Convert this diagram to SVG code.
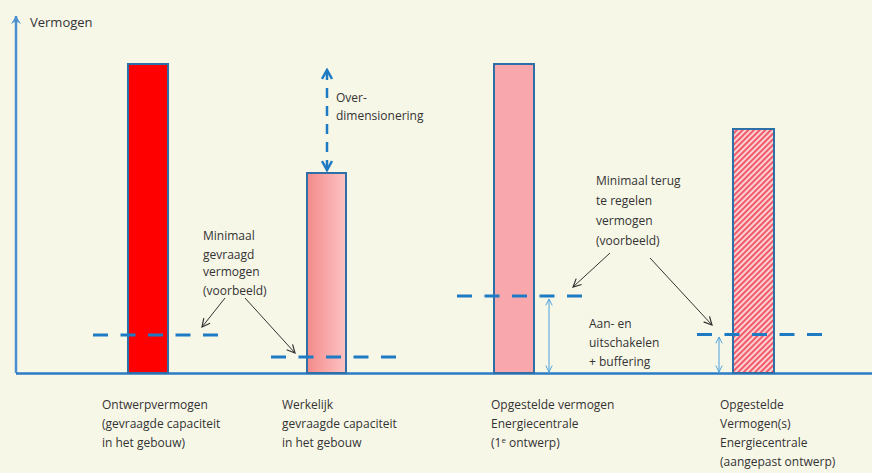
<svg xmlns="http://www.w3.org/2000/svg" width="872" height="473" viewBox="0 0 872 473">
<style>
  .t { font-family: "Open Sans", "Liberation Sans", sans-serif; font-size: 12px; fill: #333333; }
  .bar { stroke: #2e6fa8; stroke-width: 2; }
  .dash { stroke: #1f7ac4; stroke-width: 3; stroke-dasharray: 15 12.5; fill: none; }
  .ptr { stroke: #333; stroke-width: 1; fill: none; marker-end: url(#ah); }
  .thin { stroke: #4aa0dc; stroke-width: 1; fill: none; marker-start: url(#sa); marker-end: url(#sa); }
</style>
<defs>
  <marker id="ah" viewBox="0 0 10 10" refX="9" refY="5" markerWidth="10" markerHeight="10" orient="auto" markerUnits="userSpaceOnUse">
    <path d="M1,1 L9,5 L1,9" fill="none" stroke="#333" stroke-width="1.2"/>
  </marker>
  <marker id="sa" viewBox="0 0 10 10" refX="9" refY="5" markerWidth="8" markerHeight="8" orient="auto-start-reverse" markerUnits="userSpaceOnUse">
    <path d="M1,1 L9,5 L1,9" fill="none" stroke="#4aa0dc" stroke-width="1.2"/>
  </marker>
  <marker id="ba" viewBox="0 0 12 12" refX="10" refY="6" markerWidth="12" markerHeight="12" orient="auto-start-reverse" markerUnits="userSpaceOnUse">
    <path d="M1,1 L10,6 L1,11" fill="none" stroke="#1f7ac4" stroke-width="2.5"/>
  </marker>
  <marker id="axa" viewBox="0 0 12 12" refX="10" refY="6" markerWidth="12" markerHeight="12" orient="auto" markerUnits="userSpaceOnUse">
    <path d="M2,1 L10,6 L2,11 L5,6 Z" fill="#4a90d0"/>
  </marker>
  <linearGradient id="g2" x1="0" y1="0" x2="1" y2="0">
    <stop offset="0" stop-color="#f48a8a"/>
    <stop offset="1" stop-color="#fcc4c4"/>
  </linearGradient>
  <pattern id="hatch" width="4" height="4" patternUnits="userSpaceOnUse" patternTransform="rotate(45)">
    <rect width="4" height="4" fill="#fbdede"/>
    <rect width="2.2" height="4" fill="#f25a6a"/>
  </pattern>
</defs>
<rect width="872" height="473" fill="#f7f7e8"/>

<g id="axes">
  <line x1="16" y1="373" x2="16" y2="16" stroke="#4a90d0" stroke-width="2.5" marker-end="url(#axa)"/>
  <line x1="16" y1="373.5" x2="872" y2="373.5" stroke="#2a7cc6" stroke-width="2.5"/>
  <text class="t" x="30" y="27" style="font-size:13px">Vermogen</text>
</g>

<g id="bar1"><rect class="bar" x="128" y="64" width="40" height="309" fill="#ff0000"/></g>
<g id="bar2"><rect class="bar" x="307" y="173" width="39" height="200" fill="url(#g2)"/></g>
<g id="bar3"><rect class="bar" x="494" y="64" width="40" height="309" fill="#f8a8ac"/></g>
<g id="bar4"><rect class="bar" x="733" y="129" width="41" height="244" fill="url(#hatch)"/></g>

<g id="connectors">
  <line class="dash" x1="93" y1="335" x2="220" y2="335"/>
  <line class="dash" x1="271" y1="357" x2="396" y2="357"/>
  <line class="dash" x1="457" y1="296" x2="582" y2="296"/>
  <line class="dash" x1="697" y1="334.5" x2="822" y2="334.5"/>
  <line x1="327" y1="70" x2="327" y2="170" stroke="#1f7ac4" stroke-width="2.5" stroke-dasharray="10 8" marker-start="url(#ba)" marker-end="url(#ba)"/>
  <line class="ptr" x1="225" y1="298" x2="202" y2="327"/>
  <line class="ptr" x1="245" y1="298" x2="295" y2="353"/>
  <line class="ptr" x1="610" y1="253" x2="573" y2="287"/>
  <line class="ptr" x1="650" y1="258" x2="712" y2="325"/>
  <line class="thin" x1="549" y1="299" x2="549" y2="372"/>
  <line class="thin" x1="719" y1="337" x2="719" y2="372"/>
</g>

<g id="lbl-over">
  <text class="t" x="336" y="102">Over-</text>
  <text class="t" x="336" y="120">dimensionering</text>
</g>
<g id="lbl-minimaal1">
  <text class="t" x="203" y="240">Minimaal</text>
  <text class="t" x="203" y="259">gevraagd</text>
  <text class="t" x="203" y="276">vermogen</text>
  <text class="t" x="203" y="295">(voorbeeld)</text>
</g>
<g id="lbl-minimaal2">
  <text class="t" x="596" y="185">Minimaal terug</text>
  <text class="t" x="596" y="205">te regelen</text>
  <text class="t" x="596" y="225">vermogen</text>
  <text class="t" x="596" y="245">(voorbeeld)</text>
</g>
<g id="lbl-aan">
  <text class="t" x="589" y="328">Aan- en</text>
  <text class="t" x="589" y="347">uitschakelen</text>
  <text class="t" x="589" y="366">+ buffering</text>
</g>
<g id="lbl-bar1">
  <text class="t" x="102" y="409">Ontwerpvermogen</text>
  <text class="t" x="102" y="428">(gevraagde capaciteit</text>
  <text class="t" x="102" y="447">in het gebouw)</text>
</g>
<g id="lbl-bar2">
  <text class="t" x="282" y="409">Werkelijk</text>
  <text class="t" x="282" y="428">gevraagde capaciteit</text>
  <text class="t" x="282" y="447">in het gebouw</text>
</g>
<g id="lbl-bar3">
  <text class="t" x="491" y="409">Opgestelde vermogen</text>
  <text class="t" x="491" y="428">Energiecentrale</text>
  <text class="t" x="491" y="447">(1<tspan font-size="8" dy="-4">e</tspan><tspan dy="4"> ontwerp)</tspan></text>
</g>
<g id="lbl-bar4">
  <text class="t" x="720" y="409">Opgestelde</text>
  <text class="t" x="720" y="428">Vermogen(s)</text>
  <text class="t" x="720" y="447">Energiecentrale</text>
  <text class="t" x="720" y="466">(aangepast ontwerp)</text>
</g>
</svg>
